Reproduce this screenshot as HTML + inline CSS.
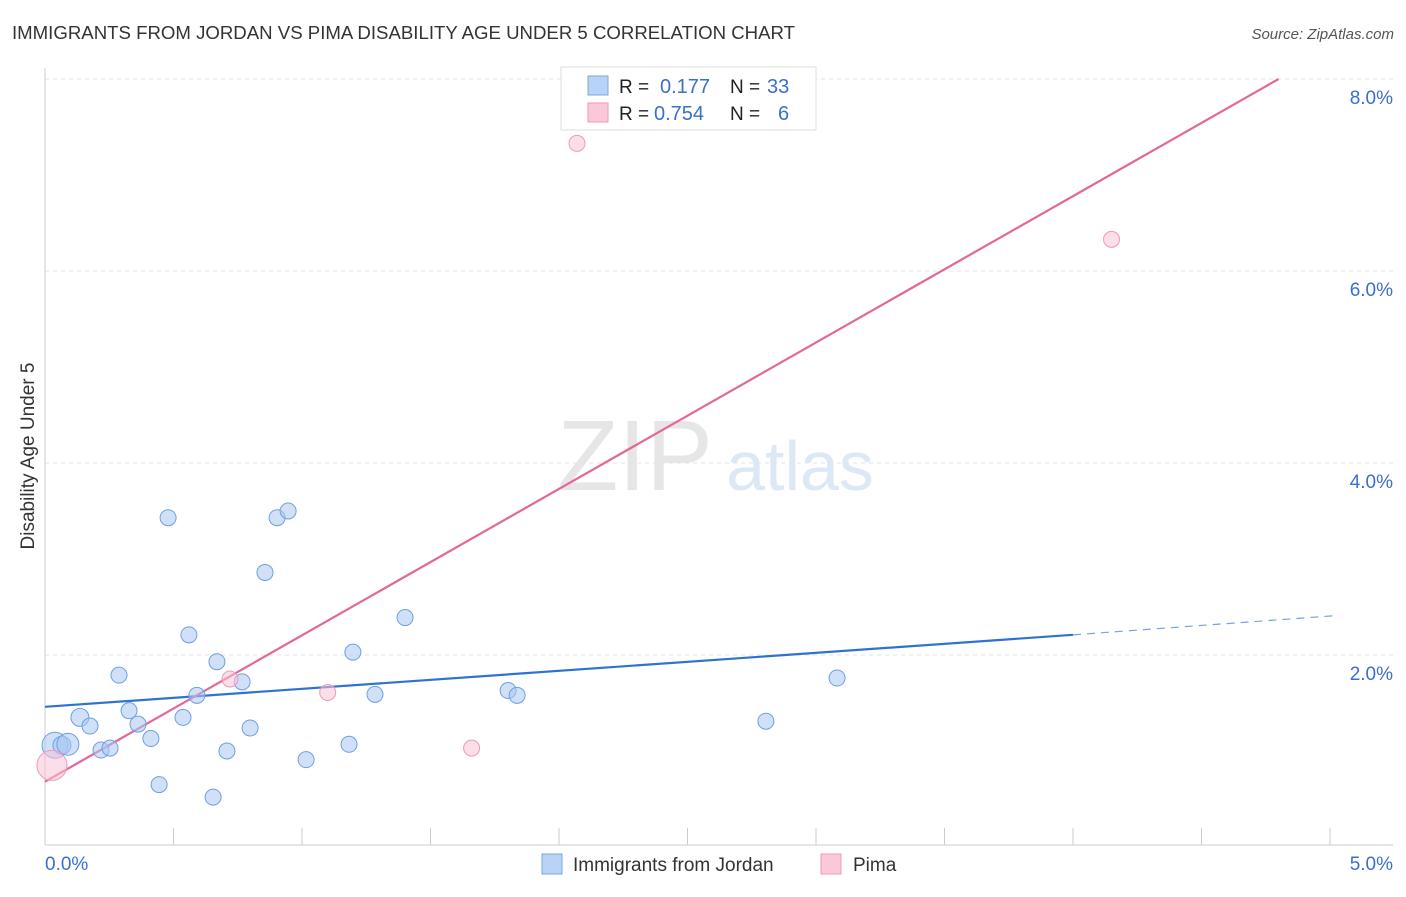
<!DOCTYPE html>
<html><head><meta charset="utf-8"><style>
body{margin:0;background:#fff;font-family:"Liberation Sans",sans-serif;}
svg text{font-family:"Liberation Sans",sans-serif;}
</style></head><body>
<svg width="1406" height="892" xmlns="http://www.w3.org/2000/svg" id="chart">
<text x="12" y="39" font-size="18" fill="#333" textLength="783" lengthAdjust="spacingAndGlyphs">IMMIGRANTS FROM JORDAN VS PIMA DISABILITY AGE UNDER 5 CORRELATION CHART</text>
<text x="1394" y="39" font-size="15" fill="#555" font-style="italic" text-anchor="end">Source: ZipAtlas.com</text>
<text x="34" y="456" font-size="19" fill="#333" text-anchor="middle" transform="rotate(-90 34 456)">Disability Age Under 5</text>
<g><text x="635" y="490" font-size="100" fill="#e6e6e6" font-family="Liberation Serif" text-anchor="middle">ZIP</text><text x="800" y="490" font-size="70" fill="#dde8f5" text-anchor="middle">atlas</text></g>
<g id="grid"></g><g id="axes"></g><g id="lines"></g><g id="points"></g>
<g>
<rect x="561" y="67" width="255" height="63" fill="#fff" stroke="#ddd"/>
<rect x="588" y="76" width="20" height="19" fill="#b8d3f5" stroke="#7aa8e0"/>
<text x="619" y="93" font-size="19" fill="#222">R = </text><text x="660" y="93" font-size="20" fill="#3a6fd0">0.177</text>
<text x="730" y="93" font-size="19" fill="#222">N = </text><text x="767" y="93" font-size="20" fill="#3a6fd0">33</text>
<rect x="588" y="103" width="20" height="19" fill="#fac8d8" stroke="#ee9ab6"/>
<text x="619" y="120" font-size="19" fill="#222">R = </text><text x="654" y="120" font-size="20" fill="#3a6fd0">0.754</text>
<text x="730" y="120" font-size="19" fill="#222">N = </text><text x="778" y="120" font-size="20" fill="#3a6fd0">6</text>
</g>
<g>
<rect x="542" y="854" width="20" height="20" fill="#b8d3f5" stroke="#7aa8e0"/><text x="573" y="871" font-size="19" fill="#333">Immigrants from Jordan</text>
<rect x="821" y="854" width="20" height="20" fill="#fac8d8" stroke="#ee9ab6"/><text x="853" y="871" font-size="19" fill="#333">Pima</text>
</g>
</svg>
<script>
const yTicks=[2,4,6,8];
const yTickLabels=["2.0%","4.0%","6.0%","8.0%"];
const xTickVals=[0,0.5,1,1.5,2,2.5,3,3.5,4,4.5,5];
const jordanX=[0.039,0.066,0.089,0.136,0.175,0.218,0.253,0.288,0.327,0.362,0.412,0.444,0.479,0.537,0.560,0.591,0.654,0.669,0.708,0.767,0.798,0.856,0.903,0.946,1.016,1.183,1.198,1.284,1.401,1.802,1.837,2.805,3.082];
const jordanY=[1.06,1.06,1.07,1.35,1.26,1.01,1.03,1.79,1.42,1.28,1.13,0.65,3.43,1.35,2.21,1.58,0.52,1.93,1.0,1.72,1.24,2.86,3.43,3.5,0.91,1.07,2.03,1.59,2.39,1.63,1.58,1.31,1.76];
const jordanR=[13,9,11,9,8,8,8,8,8,8,8,8,8,8,8,8,8,8,8,8,8,8,8,8,8,8,8,8,8,8,8,8,8];
const pimaX=[0.027,0.72,1.10,1.66,2.07,4.15];
const pimaY=[0.85,1.75,1.61,1.03,7.33,6.33];
const pimaR=[15,8,8,8,8,8];
const jordanLine=[[0,1.46],[4.0,2.21]];
const jordanDash=[[4.0,2.21],[5.02,2.41]];
const pimaLine=[[0,0.68],[4.8,8.0]];
const NS="http://www.w3.org/2000/svg";
const xs=v=>45+v*257, ys=v=>847-v*96;
function mk(t,a,p){const e=document.createElementNS(NS,t);for(const k in a)e.setAttribute(k,a[k]);document.getElementById(p).appendChild(e);return e;}
yTicks.forEach((v,i)=>{
 const g=mk('line',{x1:45,x2:1393,y1:ys(v),y2:ys(v),stroke:'#e3e3e3','stroke-dasharray':'4,4'},'grid');
 
 
 const t=mk('text',{x:1393,y:ys(v)+25,'font-size':19,fill:'#3a6fd0','text-anchor':'end'},'axes');t.textContent=yTickLabels[i];
 
 
});
const al=mk('line',{x1:45,x2:45,y1:68,y2:845,stroke:'#ccc'},'axes');


const bl=mk('line',{x1:45,x2:1393,y1:845,y2:845,stroke:'#ccc'},'axes');


xTickVals.forEach(v=>{const t=mk('line',{x1:xs(v),x2:xs(v),y1:828,y2:845,stroke:'#ccc'},'axes');
 
 });
const x0=mk('text',{x:45,y:870,'font-size':19,fill:'#3a6fd0'},'axes');x0.textContent='0.0%';


const x1=mk('text',{x:1393,y:870,'font-size':19,fill:'#3a6fd0','text-anchor':'end'},'axes');x1.textContent='5.0%';


function ln(d,c,w,dash,name){const e=mk('line',{x1:xs(d[0][0]),y1:ys(d[0][1]),x2:xs(d[1][0]),y2:ys(d[1][1]),stroke:c,'stroke-width':w},'lines');if(dash)e.setAttribute('stroke-dasharray',dash);
 
 }
ln(jordanLine,'#2f72d6',2.2,null,'jordan-trend-line');
ln(jordanDash,'#7aa3df',1.2,'8,6','jordan-trend-extension');
ln(pimaLine,'#e3679a',2.2,null,'pima-trend-line');
jordanX.forEach((x,i)=>{const c=mk('circle',{cx:xs(x),cy:ys(jordanY[i]),r:jordanR[i],fill:'rgba(170,200,240,0.55)',stroke:'#6f9fe0','stroke-width':1},'points');
 
 });
pimaX.forEach((x,i)=>{const c=mk('circle',{cx:xs(x),cy:ys(pimaY[i]),r:pimaR[i],fill:'rgba(250,195,215,0.55)',stroke:'#ec9ab8','stroke-width':1},'points');
 
 });
</script>
</body></html>
